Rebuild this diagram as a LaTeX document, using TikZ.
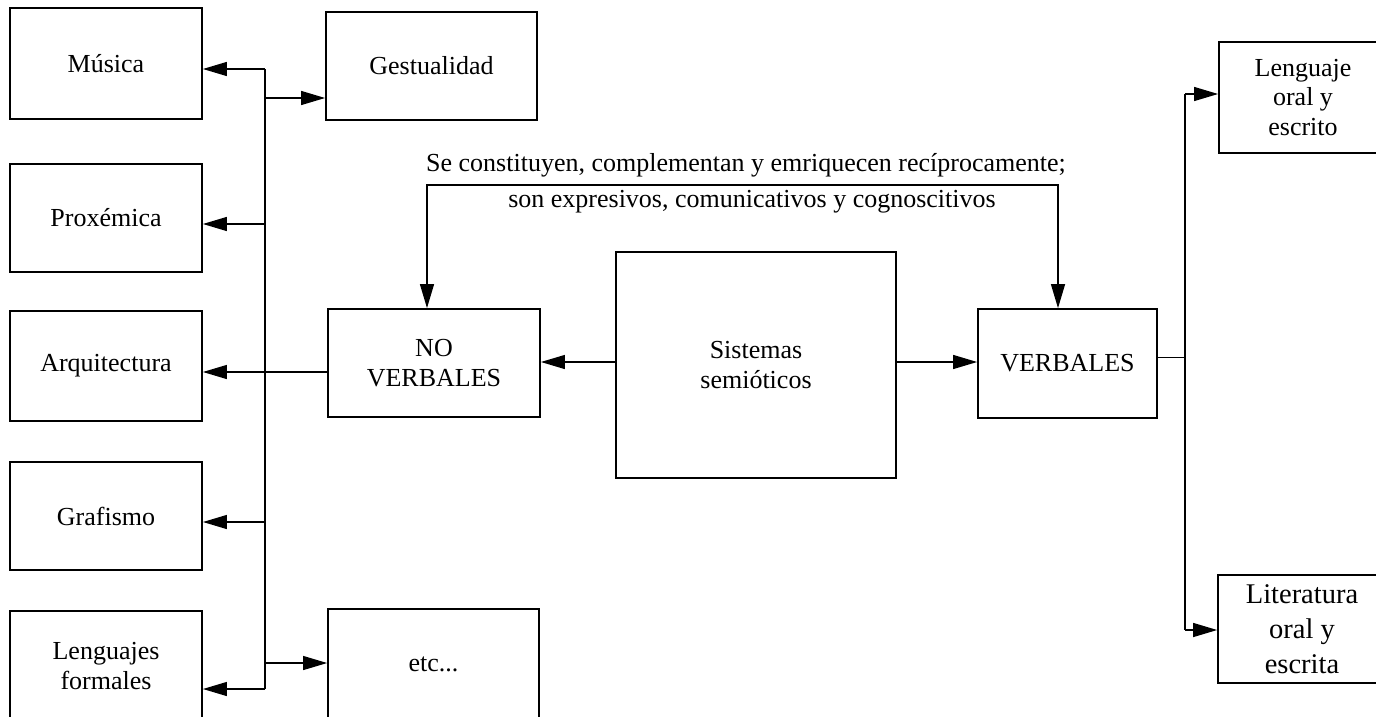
\documentclass[tikz,border=0pt]{standalone}
\usepackage{fontspec}
\setmainfont{Liberation Serif}
\usetikzlibrary{arrows.meta}
\begin{document}
\begin{tikzpicture}[x=1pt,y=-1pt,
  box/.style={draw, line width=1.8pt, inner sep=0pt, align=center,
    font=\fontsize{26}{29.5}\selectfont},
  link/.style={line width=1.3pt},
  tip/.tip={Triangle[length=24pt,width=14pt]},
  arr/.style={link, -tip},
  note/.style={anchor=base, inner sep=0pt, font=\fontsize{26}{30}\selectfont},
]
\useasboundingbox (0,0) rectangle (1376,716);
\clip (0,0) rectangle (1376,716);

% non-verbal systems (left column)
\node[box, minimum width=192pt, minimum height=111pt] (mus)  at (106,63.5) {Música};
\node[box, minimum width=192pt, minimum height=108pt] (prox) at (106,218)  {Proxémica};
\node[box, minimum width=192pt, minimum height=110pt] (arq)  at (106,366)  {Arquitectura};
\node[box, minimum width=192pt, minimum height=108pt] (graf) at (106,516)  {Grafismo};
\node[box, minimum width=192pt, minimum height=110pt] (lf)   at (106,666)  {Lenguajes\\formales};

% middle column
\node[box, minimum width=211pt, minimum height=108pt] (ges) at (431.5,66) {Gestualidad};
\node[box, minimum width=212pt, minimum height=108pt] (nv)  at (434,363)  {NO\\VERBALES};
\node[box, minimum width=211pt, minimum height=110pt] (etc) at (433.5,664) {etc...};

% centre
\node[box, minimum width=280pt, minimum height=226pt] (sis) at (756,365) {Sistemas\\semióticos};

% verbal systems
\node[box, minimum width=179pt, minimum height=109pt] (verb) at (1067.5,363.5) {VERBALES};
\node[box, minimum width=168pt, minimum height=111pt] (len) at (1303,97.5) {Lenguaje\\oral y\\escrito};
\node[box, minimum width=168pt, minimum height=108pt,
      font=\fontsize{28.5}{35}\selectfont] (lit) at (1302,629) {Literatura\\oral y\\escrita};

% shared description of both kinds
\node[note] (t1) at (746,171) {Se constituyen, complementan y emriquecen recíprocamente;};
\node[note] (t2) at (752,207) {son expresivos, comunicativos y cognoscitivos};

% left bus
\coordinate (bTop)  at (265,69);
\coordinate (bGes)  at (265,98);
\coordinate (bProx) at (265,224);
\coordinate (bArq)  at (265,372);
\coordinate (bGraf) at (265,522);
\coordinate (bEtc)  at (265,663);
\coordinate (bBot)  at (265,689);
\draw[link] (bTop) -- (bBot);
\draw[arr] (bTop)  -- (mus.east |- bTop);
\draw[arr] (bGes)  -- (ges.west |- bGes);
\draw[arr] (bProx) -- (prox.east |- bProx);
\draw[arr] (nv.west |- bArq) -- (arq.east |- bArq);
\draw[arr] (bGraf) -- (graf.east |- bGraf);
\draw[arr] (bEtc)  -- (etc.west |- bEtc);
\draw[arr] (bBot)  -- (lf.east |- bBot);

% from the centre box
\coordinate (sL) at ([yshift=3pt]sis.west);
\coordinate (sR) at ([yshift=3pt]sis.east);
\draw[arr] (sL) -- (sL -| nv.east);
\draw[arr] (sR) -- (sR -| verb.west);

% right bus
\coordinate (rTop) at (1185,94);
\coordinate (rBot) at (1185,630);
\coordinate (vOut) at ([yshift=6pt]verb.east);
\draw[link] (vOut) -- (vOut -| rTop);
\draw[link] (rTop) -- (rBot);
\draw[arr] (rTop) -- (len.west |- rTop);
\draw[arr] (rBot) -- (lit.west |- rBot);

% bracket joining both kinds
\coordinate (cl) at (427,185);
\coordinate (cr) at (1058,185);
\draw[link, tip-tip] (cl |- nv.north) -- (cl) -- (cr) -- (cr |- verb.north);
\end{tikzpicture}
\end{document}
